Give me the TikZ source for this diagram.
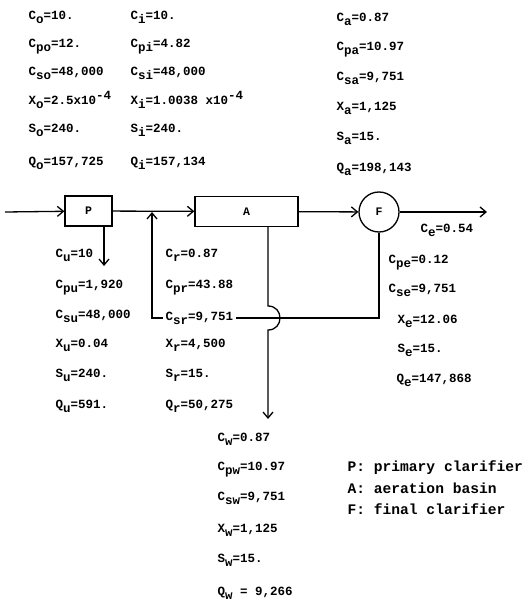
\documentclass[tikz,border=0pt]{standalone}
\usepackage{fontspec}
\setmonofont{Liberation Mono}
\usepackage{tikz}
\usetikzlibrary{arrows.meta}
\newcommand{\lowr}[1]{\raisebox{-4pt}{#1}}
\newcommand{\rais}[1]{\raisebox{5pt}{#1}}

\begin{document}
\begin{tikzpicture}[x=1pt,y=-1pt,line width=1.3pt]
    \tikzstyle{unit}=[draw,inner sep=0pt,font=\ttfamily\bfseries\fontsize{11.5}{11.5}\selectfont]
    \tikzstyle{flow}=[-{Straight Barb[length=6pt,width=10pt]}]
    \tikzstyle{val}=[anchor=base west,inner sep=0pt,font=\ttfamily\bfseries\fontsize{12.5}{14}\selectfont]
    \tikzstyle{key}=[anchor=base west,inner sep=0pt,font=\ttfamily\bfseries\fontsize{14.6}{16}\selectfont]
    \useasboundingbox (0,0) rectangle (528,601);
      % process units
      \node[unit,minimum width=47pt,minimum height=30pt] (P) at (88.5,211) {P};
      \node[unit,minimum width=103pt,minimum height=30pt] (A) at (246.5,211.5) {A};
      \node[unit,circle,minimum size=40pt] (F) at (379,212) {F};
      \coordinate (In) at (5,212);
      \coordinate (Out) at (487,212);
      \coordinate (J) at (152,212);
      \coordinate (Rc) at (152,318);
      \coordinate (U) at (104,266);
      \coordinate (W) at (268,419);
      % streams
      \draw[flow] (In) -- (P);
      \draw[flow] (P) -- (A);
      \draw[flow] (A) -- (F);
      \draw[flow] (F) -- (Out);
      \draw[flow] (P.south -| U) -- (U);
      \draw[flow] (F.south) |- (Rc) -- (J);
      \draw[flow] (A.south -| W) -- (268,306) .. controls (284,306) and (284,330) .. (268,330) -- (W);
      % influent
      \node[val] (Co) at (28,20) {C\lowr{o}=10.};
      \node[val] (Cpo) at (28,48) {C\lowr{po}=12.};
      \node[val] (Cso) at (28,76) {C\lowr{so}=48,000};
      \node[val] (Xo) at (28,105) {X\lowr{o}=2.5x10\rais{-4}};
      \node[val] (So) at (28,133) {S\lowr{o}=240.};
      \node[val] (Qo) at (28,166) {Q\lowr{o}=157,725};
      % primary effluent
      \node[val] (Ci) at (130,20) {C\lowr{i}=10.};
      \node[val] (Cpi) at (130,48) {C\lowr{pi}=4.82};
      \node[val] (Csi) at (130,76) {C\lowr{si}=48,000};
      \node[val] (Xi) at (130,105) {X\lowr{i}=1.0038 x10\rais{-4}};
      \node[val] (Si) at (130,133) {S\lowr{i}=240.};
      \node[val] (Qi) at (130,166) {Q\lowr{i}=157,134};
      % aeration basin effluent
      \node[val] (Ca) at (336,22) {C\lowr{a}=0.87};
      \node[val] (Cpa) at (336,51) {C\lowr{pa}=10.97};
      \node[val] (Csa) at (336,81) {C\lowr{sa}=9,751};
      \node[val] (Xa) at (336,111) {X\lowr{a}=1,125};
      \node[val] (Sa) at (336,141) {S\lowr{a}=15.};
      \node[val] (Qa) at (336,172) {Q\lowr{a}=198,143};
      % primary underflow
      \node[val] (Cu) at (55,257) {C\lowr{u}=10};
      \node[val] (Cpu) at (55,288) {C\lowr{pu}=1,920};
      \node[val] (Csu) at (55,318) {C\lowr{su}=48,000};
      \node[val] (Xu) at (55,347) {X\lowr{u}=0.04};
      \node[val] (Su) at (55,377) {S\lowr{u}=240.};
      \node[val] (Qu) at (55,408) {Q\lowr{u}=591.};
      % recycle
      \node[val] (Cr) at (165,257) {C\lowr{r}=0.87};
      \node[val] (Cpr) at (165,288) {C\lowr{pr}=43.88};
      \node[val,fill=white,inner sep=2.5pt] (Csr) at (162.5,320) {C\lowr{sr}=9,751};
      \node[val] (Xr) at (165,347) {X\lowr{r}=4,500};
      \node[val] (Sr) at (165,377) {S\lowr{r}=15.};
      \node[val] (Qr) at (165,408) {Q\lowr{r}=50,275};
      % final effluent
      \node[val] (Ce) at (420,233) {C\lowr{e}=0.54};
      \node[val] (Cpe) at (388,263) {C\lowr{pe}=0.12};
      \node[val] (Cse) at (388,292) {C\lowr{se}=9,751};
      \node[val] (Xe) at (397,323) {X\lowr{e}=12.06};
      \node[val] (Se) at (397,352) {S\lowr{e}=15.};
      \node[val] (Qe) at (396,382) {Q\lowr{e}=147,868};
      % waste sludge
      \node[val] (Cw) at (217,441) {C\lowr{w}=0.87};
      \node[val] (Cpw) at (217,470) {C\lowr{pw}=10.97};
      \node[val] (Csw) at (217,500) {C\lowr{sw}=9,751};
      \node[val] (Xw) at (217,532) {X\lowr{w}=1,125};
      \node[val] (Sw) at (217,562) {S\lowr{w}=15.};
      \node[val] (Qw) at (217,595) {Q\lowr{w} = 9,266};
      % legend
      \node[key] (keyP) at (347,471) {P: primary clarifier};
      \node[key] (keyA) at (347,493) {A: aeration basin};
      \node[key] (keyF) at (347,514) {F: final clarifier};
\end{tikzpicture}
\end{document}
